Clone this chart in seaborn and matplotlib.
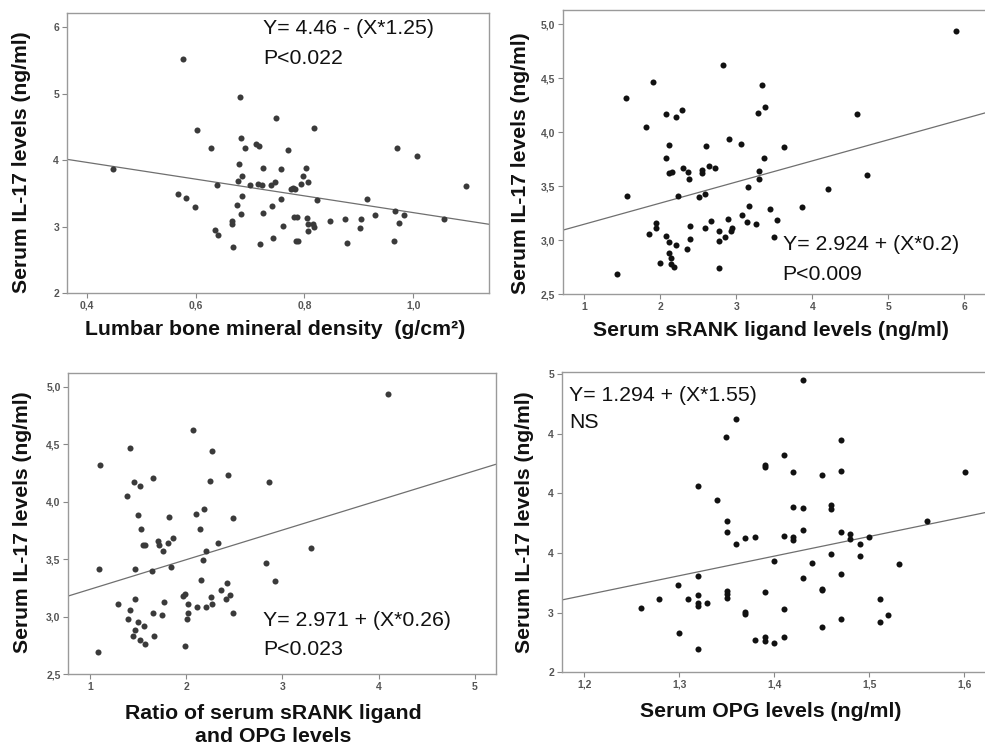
import numpy as np
import pandas as pd
import seaborn as sns
import matplotlib.pyplot as plt

sns.set_style('white')
plt.rcParams['font.family'] = ['Liberation Sans', 'DejaVu Sans']

# panel A: lumbar BMD vs IL-17
bmd = [0.449, 0.576, 0.567, 0.582, 0.598, 0.603, 0.629, 0.639, 0.635, 0.641,
       0.666, 0.667, 0.669, 0.676, 0.677, 0.679, 0.682, 0.683, 0.686, 0.686,
       0.684, 0.691, 0.699, 0.711, 0.716, 0.715, 0.722, 0.724, 0.718, 0.724,
       0.738, 0.746, 0.747, 0.740, 0.742, 0.757, 0.757, 0.761, 0.770, 0.775,
       0.778, 0.783, 0.780, 0.787, 0.784, 0.789, 0.793, 0.797, 0.803, 0.806,
       0.805, 0.807, 0.806, 0.816, 0.817, 0.817, 0.823, 0.847, 0.875, 0.878,
       0.904, 0.902, 0.915, 0.929, 0.964, 0.967, 0.970, 0.973, 0.982, 1.007,
       1.057, 1.097]
il17_a = [3.87, 5.53, 3.49, 3.43, 3.29, 4.45, 4.18, 3.63, 2.95, 2.88,
          3.08, 3.04, 2.69, 3.32, 3.69, 3.94, 4.95, 4.33, 3.77, 3.47,
          3.19, 4.19, 3.63, 4.24, 4.22, 3.65, 3.63, 3.89, 2.74, 3.20,
          3.63, 3.67, 4.63, 3.31, 2.83, 3.87, 3.41, 3.01, 4.15, 3.57,
          3.59, 3.57, 3.15, 3.15, 2.78, 2.79, 3.65, 3.76, 3.88, 3.67,
          3.13, 3.04, 2.93, 3.04, 2.99, 4.48, 3.40, 3.08, 3.11, 2.75,
          3.11, 2.98, 3.41, 3.18, 2.79, 3.23, 4.18, 3.06, 3.17, 4.06,
          3.11, 3.62]

# panel B: sRANKL vs IL-17
srankl = [1.425, 1.543, 1.565, 1.815, 1.855, 1.907, 1.938, 1.938, 2.000, 2.069,
          2.069, 2.078, 2.113, 2.109, 2.148, 2.109, 2.113, 2.139, 2.139, 2.174,
          2.200, 2.205, 2.236, 2.284, 2.293, 2.358, 2.376, 2.354, 2.393, 2.393,
          2.507, 2.542, 2.551, 2.586, 2.582, 2.595, 2.661, 2.643, 2.713, 2.766,
          2.775, 2.775, 2.819, 2.854, 2.884, 2.906, 2.924, 2.946, 3.055, 3.077,
          3.134, 3.156, 3.160, 3.252, 3.283, 3.292, 3.292, 3.336, 3.358, 3.379,
          3.445, 3.498, 3.537, 3.620, 3.866, 4.199, 4.580, 4.712, 5.890]
il17_b = [2.69, 4.32, 3.41, 4.05, 3.06, 4.47, 3.16, 3.11, 2.79, 3.76,
          4.17, 3.04, 3.88, 3.62, 3.63, 2.98, 2.88, 2.83, 2.78, 2.75,
          2.95, 4.14, 3.41, 4.21, 3.67, 3.63, 3.57, 2.92, 3.13, 3.01,
          3.40, 3.65, 3.62, 3.43, 3.11, 3.87, 3.18, 3.69, 3.67, 2.99,
          3.08, 2.74, 4.62, 3.03, 3.20, 3.94, 3.08, 3.11, 3.89, 3.23,
          3.17, 3.49, 3.32, 3.15, 4.18, 3.64, 3.57, 4.44, 3.76, 4.23,
          3.29, 3.03, 3.19, 3.86, 3.31, 3.47, 4.17, 3.60, 4.94]

# panel C: sRANKL/OPG ratio vs IL-17
ratio = [1.080, 1.094, 1.101, 1.291, 1.381, 1.392, 1.416, 1.416, 1.444, 1.454,
         1.465, 1.471, 1.471, 1.496, 1.503, 1.523, 1.523, 1.534, 1.548, 1.572,
         1.562, 1.568, 1.641, 1.651, 1.651, 1.662, 1.707, 1.721, 1.752, 1.763,
         1.770, 1.808, 1.821, 1.839, 1.863, 1.963, 1.991, 1.984, 2.009, 2.016,
         2.023, 2.071, 2.102, 2.109, 2.147, 2.157, 2.172, 2.182, 2.203, 2.210,
         2.248, 2.258, 2.269, 2.272, 2.334, 2.366, 2.411, 2.428, 2.432, 2.452,
         2.487, 2.487, 2.827, 2.865, 2.927, 3.302, 4.099]
il17_c = [2.69, 3.41, 4.32, 3.11, 4.05, 2.98, 3.06, 4.47, 2.83, 4.17,
          2.88, 3.15, 3.41, 2.95, 3.88, 4.14, 2.80, 3.76, 3.62, 3.62,
          2.92, 2.76, 3.40, 4.21, 3.03, 2.83, 3.66, 3.62, 3.01, 3.57,
          3.13, 3.64, 3.87, 3.43, 3.68, 3.18, 3.20, 2.74, 2.98, 3.11,
          3.03, 4.62, 3.89, 3.08, 3.76, 3.32, 3.49, 3.94, 3.08, 3.57,
          4.18, 3.17, 3.11, 4.44, 3.64, 3.23, 3.15, 3.29, 4.23, 3.19,
          3.03, 3.86, 3.47, 4.17, 3.31, 3.60, 4.94]

# panel D: OPG vs IL-17
opg = [1.260, 1.279, 1.299, 1.300, 1.309, 1.320, 1.320, 1.320, 1.320, 1.320,
       1.320, 1.329, 1.340, 1.349, 1.350, 1.350, 1.350, 1.350, 1.350, 1.360,
       1.360, 1.369, 1.369, 1.369, 1.380, 1.380, 1.390, 1.390, 1.390, 1.390,
       1.390, 1.400, 1.400, 1.410, 1.410, 1.410, 1.410, 1.420, 1.420, 1.420,
       1.420, 1.430, 1.430, 1.430, 1.430, 1.440, 1.450, 1.450, 1.450, 1.450,
       1.460, 1.460, 1.460, 1.470, 1.470, 1.470, 1.470, 1.470, 1.480, 1.480,
       1.490, 1.490, 1.500, 1.511, 1.511, 1.520, 1.531, 1.561, 1.601]
il17_d = [2.65, 2.74, 2.88, 2.40, 2.74, 3.87, 2.97, 2.78, 2.70, 2.67,
          2.23, 2.70, 3.73, 4.37, 3.52, 3.41, 2.82, 2.79, 2.75, 4.55,
          3.29, 3.35, 2.61, 2.59, 3.36, 2.32, 4.08, 4.06, 2.81, 2.35,
          2.31, 3.12, 2.29, 4.19, 3.37, 2.64, 2.35, 4.01, 3.66, 3.36,
          3.33, 4.94, 3.65, 3.43, 2.95, 3.10, 3.98, 2.84, 2.83, 2.46,
          3.68, 3.64, 3.19, 4.34, 4.02, 3.41, 2.99, 2.54, 3.39, 3.34,
          3.29, 3.17, 3.36, 2.74, 2.51, 2.58, 3.09, 3.52, 4.01]

ylabel = 'Serum IL-17 levels (ng/ml)'
xlabels = ['Lumbar bone mineral density  (g/cm²)',
           'Serum sRANK ligand levels (ng/ml)',
           'Ratio of serum sRANK ligand\nand OPG levels',
           'Serum OPG levels (ng/ml)']
equations = ['Y= 4.46 - (X*1.25)', 'Y= 2.924 + (X*0.2)',
             'Y= 2.971 + (X*0.26)', 'Y= 1.294 + (X*1.55)']
pvalues = ['P<0.022', 'P<0.009', 'P<0.023', 'NS']

xticks = [[0.4, 0.6, 0.8, 1.0], [1, 2, 3, 4, 5, 6], [1, 2, 3, 4, 5], [1.2, 1.3, 1.4, 1.5, 1.6]]
xticklabels = [['0,4', '0,6', '0,8', '1,0'], ['1', '2', '3', '4', '5', '6'],
               ['1', '2', '3', '4', '5'], ['1,2', '1,3', '1,4', '1,5', '1,6']]
yticks = [[2, 3, 4, 5, 6], [2.5, 3.0, 3.5, 4.0, 4.5, 5.0],
          [2.5, 3.0, 3.5, 4.0, 4.5, 5.0], [2.0, 2.6, 3.2, 3.8, 4.4, 5.0]]
yticklabels = [['2', '3', '4', '5', '6'], ['2,5', '3,0', '3,5', '4,0', '4,5', '5,0'],
               ['2,5', '3,0', '3,5', '4,0', '4,5', '5,0'], ['2', '3', '4', '4', '4', '5']]

xlims = [(0.363, 1.139), (0.715, 6.27), (0.775, 5.218), (1.176, 1.622)]
ylims = [(2.0, 6.21), (2.5, 5.133), (2.5, 5.122), (2.0, 5.02)]

panels = [(bmd, il17_a), (srankl, il17_b), (ratio, il17_c), (opg, il17_d)]
positions = [[0.0677, 0.6095, 0.4287, 0.3728],
             [0.5713, 0.6085, 0.4287, 0.3782],
             [0.0693, 0.1025, 0.4340, 0.4012],
             [0.5702, 0.1048, 0.4298, 0.3999]]
dot_colors = ['#3a3a3a', '#111111', '#3a3a3a', '#111111']
text_pos = [(0.465, 0.945, 0.838), (0.521, 0.176, 0.067),
            (0.456, 0.176, 0.080), (0.017, 0.923, 0.831)]
xlabel_pos = [(0.493, -0.131), (0.494, -0.127), (0.479, -0.170), (0.494, -0.132)]
ylabel_pos = [(-0.106, 0.469), (-0.101, 0.461), (-0.108, 0.503), (-0.087, 0.50)]

fig = plt.figure(figsize=(9.85, 7.51), dpi=100)

for i in range(4):
    ax = fig.add_axes(positions[i])
    df = pd.DataFrame({'x': panels[i][0], 'y': panels[i][1]})
    ax.set_xlim(xlims[i])
    ax.set_ylim(ylims[i])
    sns.regplot(x='x', y='y', data=df, ax=ax, scatter=False, ci=None, truncate=False,
                line_kws={'color': '#6f6f6f', 'linewidth': 0.9})
    sns.scatterplot(x='x', y='y', data=df, ax=ax, s=19, color=dot_colors[i],
                    linewidth=0, legend=False, zorder=3)
    ax.set_xlim(xlims[i])
    ax.set_ylim(ylims[i])

    ax.set_xticks(xticks[i])
    ax.set_xticklabels(xticklabels[i])
    ax.set_yticks(yticks[i])
    ax.set_yticklabels(yticklabels[i])
    ax.tick_params(axis='both', direction='out', length=3.5, width=0.8, color='#888888',
                   labelsize=7.5, labelcolor='#555555', pad=2, bottom=True, left=True)
    for lab in ax.get_xticklabels() + ax.get_yticklabels():
        lab.set_fontweight('bold')

    for side in ['top', 'bottom', 'left', 'right']:
        ax.spines[side].set_color('#9a9a9a')
        ax.spines[side].set_linewidth(1.0)
    if i % 2 == 1:
        ax.spines['right'].set_visible(False)

    ax.set_xlabel(xlabels[i], fontsize=15.3, fontweight='bold', color='#111111',
                  linespacing=1.25)
    ax.set_ylabel(ylabel, fontsize=15.2, fontweight='bold', color='#111111')
    ax.xaxis.set_label_coords(*xlabel_pos[i])
    ax.yaxis.set_label_coords(*ylabel_pos[i])
    ax.xaxis.label.set_va('center')
    ax.yaxis.label.set_va('center')

    tx, ty1, ty2 = text_pos[i]
    ax.text(tx, ty1, equations[i], transform=ax.transAxes, fontsize=15.3,
            color='#111111', va='center', ha='left')
    ax.text(tx, ty2, pvalues[i], transform=ax.transAxes, fontsize=15.3,
            color='#111111', va='center', ha='left')

fig.savefig('out.png', dpi=100)
